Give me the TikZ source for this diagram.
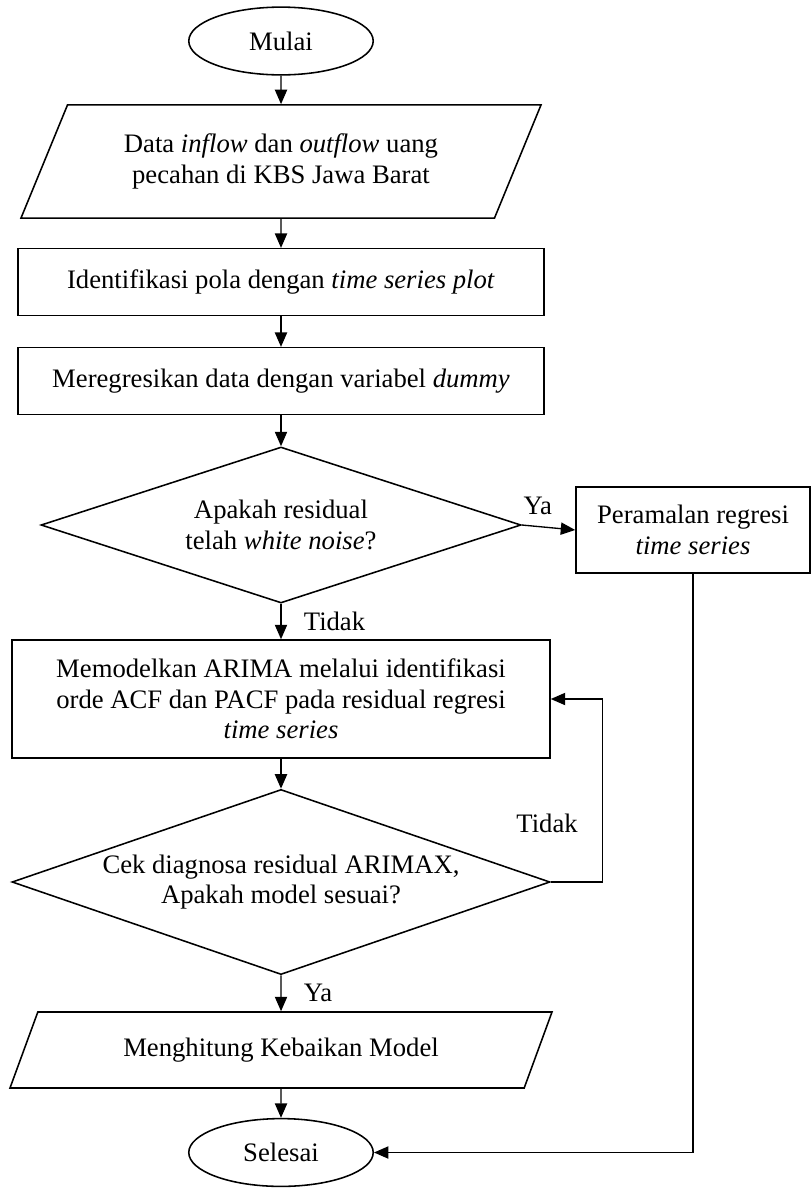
\documentclass[tikz,border=0pt]{standalone}
\usepackage{fontspec}
\setmainfont{Liberation Serif}
\usetikzlibrary{arrows.meta,positioning,calc,shapes.geometric}

\begin{document}
\begin{tikzpicture}[
 x=0.45pt,y=-0.45pt,font=\fontsize{12}{13.8}\selectfont,
 box/.style={draw=black,line width=0.7pt,align=center,inner sep=2pt},
 term/.style={box,ellipse,minimum width=83pt,minimum height=30.5pt,inner sep=0pt},
 io/.style={box,trapezium,trapezium stretches body,
            trapezium left angle=54,trapezium right angle=126},
 proc/.style={box,rectangle,minimum width=236.7pt,minimum height=30pt},
 decide/.style={box,diamond,aspect=3,inner sep=0pt},
 flow/.style={-{Triangle[length=6.5pt,width=5.5pt]},line width=0.6pt},
 note/.style={inner sep=1pt}]
\useasboundingbox (0,0) rectangle (811,1188);
\node[term] (mulai) at (281,41) {Mulai};
\node[io,minimum width=234pt,minimum height=50.9pt] (data) at (281,161.5)
 {Data \textit{inflow} dan \textit{outflow} uang\\pecahan di KBS Jawa Barat};
\node[proc] (plot) at (281,282) {Identifikasi pola dengan \textit{time series plot}};
\node[proc] (dummy) at (281,381) {Meregresikan data dengan variabel \textit{dummy}};
\node[decide,minimum width=216pt,minimum height=70.2pt] (wn) at (281,525)
 {Apakah residual\\telah \textit{white noise}?};
\node[box,minimum width=105.3pt,minimum height=38.7pt] (tsr) at (693,530)
 {Peramalan regresi\\\textit{time series}};
\node[box,minimum width=242.1pt,minimum height=53.1pt] (arima) at (281,699)
 {Memodelkan ARIMA melalui identifikasi\\orde ACF dan PACF pada residual regresi\\\textit{time series}};
\node[decide,minimum width=242.1pt,minimum height=83.3pt] (cek) at (281,882)
 {Cek diagnosa residual ARIMAX,\\Apakah model sesuai?};
\node[io,trapezium left angle=50,trapezium right angle=130,
 minimum width=243.9pt,minimum height=34.2pt] (hitung) at (281,1050)
 {Menghitung Kebaikan Model};
\node[term] (selesai) at (281,1152.5) {Selesai};
\draw[flow] (mulai) -- (data);
\draw[flow] (data) -- (plot);
\draw[flow] (plot) -- (dummy);
\draw[flow] (dummy) -- (wn);
\draw[flow] (wn.east) -- node[note,above=4pt,pos=0.3] {Ya} (tsr.west);
\draw[flow] (wn.south) -- node[note,right=9pt] {Tidak} (arima.north);
\draw[flow] (arima) -- (cek);
\draw[flow] (cek.east) -- ++(52,0) |- node[note,left=10pt,pos=0.16] {Tidak} (arima.east);
\draw[flow] (cek.south) -- node[note,right=9pt] {Ya} (hitung.north);
\draw[flow] (hitung) -- (selesai);
\draw[flow] (tsr.south) |- (selesai.east);
\end{tikzpicture}
\end{document}
